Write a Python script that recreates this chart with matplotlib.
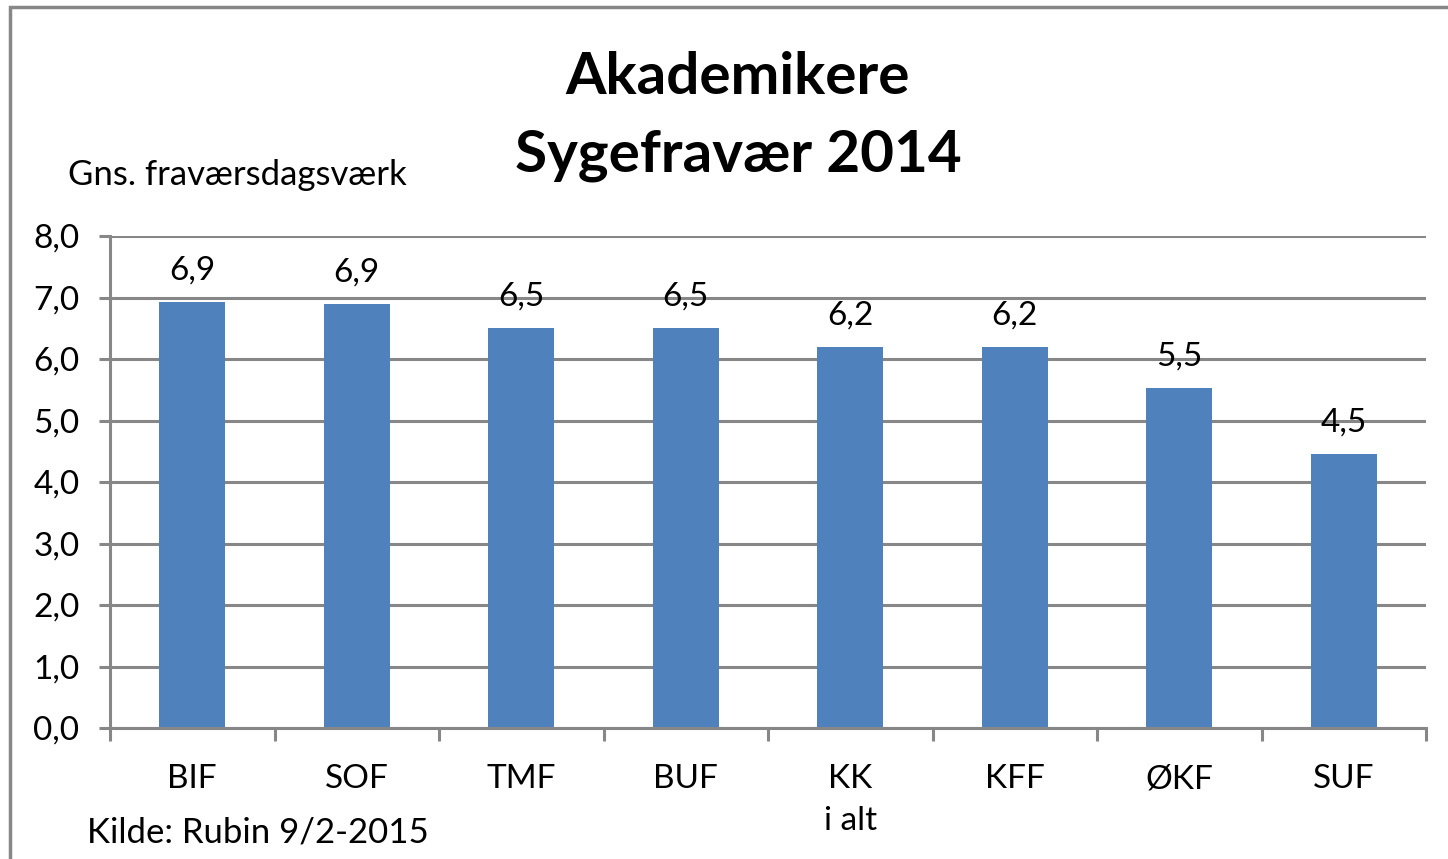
import matplotlib.pyplot as plt
from matplotlib.patches import Rectangle
import numpy as np

# ===== data =====
categories = ["BIF", "SOF", "TMF", "BUF", "KK\ni alt", "KFF", "ØKF", "SUF"]
values = [6.93, 6.89, 6.50, 6.50, 6.20, 6.20, 5.53, 4.45]
labels = ["6,9", "6,9", "6,5", "6,5", "6,2", "6,2", "5,5", "4,5"]
yticks = [0, 1, 2, 3, 4, 5, 6, 7, 8]

BAR = "#4F81BD"
GRID = "#878787"

plt.rcParams["font.family"] = ["Lato", "DejaVu Sans"]

fig = plt.figure(figsize=(14.48, 8.59), dpi=100)
ax = fig.add_axes([110 / 1448, 1 - 728 / 859, 1316 / 1448, 492 / 859])

x = np.arange(len(categories))
ax.bar(x, values, width=0.4, color=BAR, zorder=3)
for xi, v, lab in zip(x, values, labels):
    ax.annotate(lab, (xi, v), xytext=(0, 12), textcoords="offset points",
                ha="center", va="bottom", fontsize=24, color="black", zorder=4)

ax.set_xlim(-0.5, len(categories) - 0.5)
ax.set_ylim(0, 8)
ax.set_yticks(yticks)
ax.set_yticklabels([f"{t:.1f}".replace(".", ",") for t in yticks], fontsize=24)
ax.yaxis.grid(True, color=GRID, linewidth=2.2, zorder=0)
ax.tick_params(axis="y", length=8, width=2.2, color=GRID, pad=14)

# category ticks sit between the bars
ax.set_xticks(np.arange(len(categories) + 1) - 0.5)
ax.set_xticklabels([])
ax.set_xticks(x, minor=True)
ax.set_xticklabels(categories, minor=True, fontsize=24, va="top", linespacing=1.5)
ax.tick_params(axis="x", which="major", length=9, width=2.2, color=GRID)
ax.tick_params(axis="x", which="minor", length=0, pad=26)

for s in ["top", "right"]:
    ax.spines[s].set_visible(False)
for s in ["left", "bottom"]:
    ax.spines[s].set_color(GRID)
    ax.spines[s].set_linewidth(2.2)
    ax.spines[s].set_zorder(5)

fig.text(738 / 1448, 1 - 78 / 859, "Akademikere", ha="center", va="center",
         fontsize=42, fontweight="bold")
fig.text(738 / 1448, 1 - 155 / 859, "Sygefravær 2014", ha="center", va="center",
         fontsize=42, fontweight="bold")
fig.text(68 / 1448, 1 - 175 / 859, "Gns. fraværsdagsværk", ha="left", va="center",
         fontsize=25)
fig.text(87 / 1448, 1 - 832 / 859, "Kilde: Rubin 9/2-2015", ha="left", va="center",
         fontsize=25)

# chart border (only left and top are inside the picture)
fig.patches.append(Rectangle((10 / 1448, -0.1), 1.2, 1.1 - 7 / 859, transform=fig.transFigure,
                             fill=False, edgecolor=GRID, linewidth=2.5))

fig.savefig("out.png", facecolor="white")
